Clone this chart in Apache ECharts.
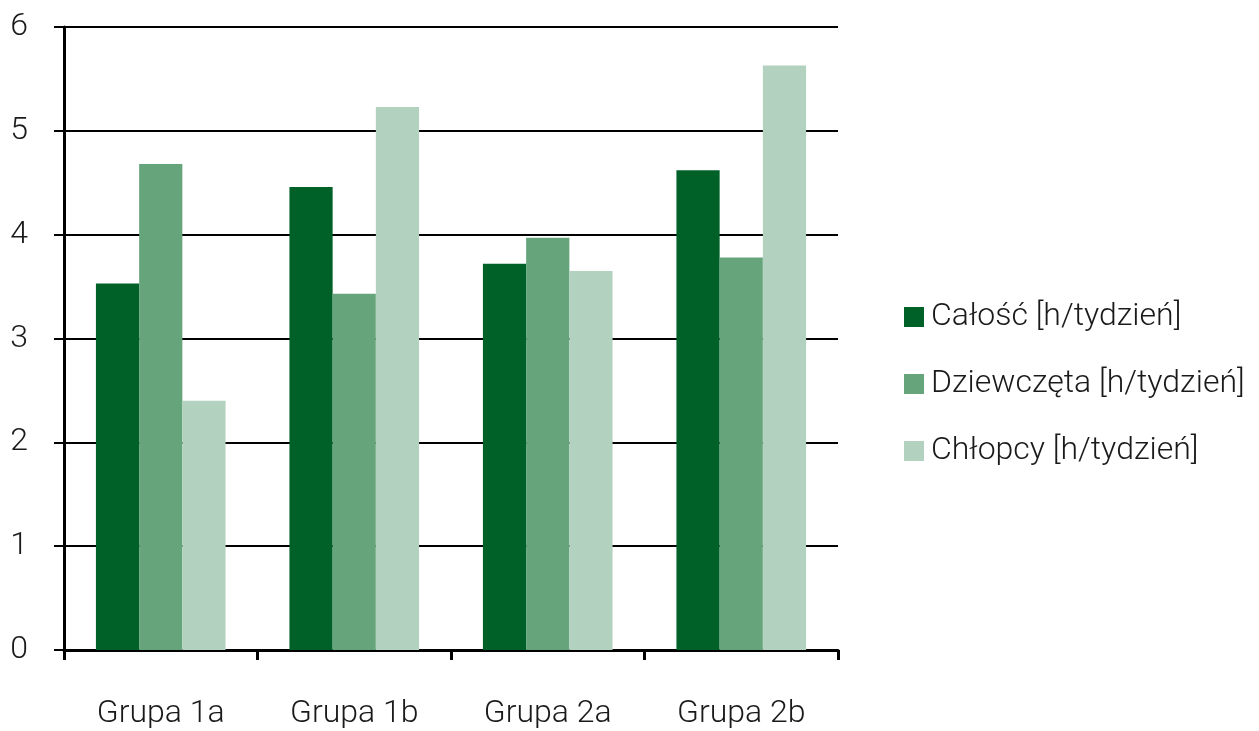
<!DOCTYPE html>
<html>
<head>
<meta charset="utf-8">
<script src="https://cdn.jsdelivr.net/npm/echarts@6/dist/echarts.min.js"></script>
<style>
  html, body { margin: 0; padding: 0; background: #fff; }
  #chart { width: 1259px; height: 731px; }
</style>
</head>
<body>
<div id="chart"></div>
<script>
  // dane
  const categories = ['Grupa 1a', 'Grupa 1b', 'Grupa 2a', 'Grupa 2b'];
  const calosc = [3.53, 4.46, 3.72, 4.62];
  const dziewczeta = [4.68, 3.43, 3.97, 3.78];
  const chlopcy = [2.40, 5.23, 3.65, 5.63];
  const seriesNames = ['Całość [h/tydzień]', 'Dziewczęta [h/tydzień]', 'Chłopcy [h/tydzień]'];

  const font = 'Roboto, Liberation Sans, Arial, sans-serif';
  const chart = echarts.init(document.getElementById('chart'));

  chart.setOption({
    animation: false,
    color: ['#006128', '#66a47c', '#b3d1bf'],
    grid: { left: 64, right: 421, top: 27, bottom: 81 },
    legend: {
      orient: 'vertical',
      left: 899,
      top: 296,
      itemWidth: 20,
      itemHeight: 20,
      itemGap: 35,
      icon: 'rect',
      textStyle: { fontSize: 32, fontWeight: 300, color: '#1a1a1a', fontFamily: font, padding: [0, 0, 0, 2] },
      data: seriesNames
    },
    xAxis: {
      type: 'category',
      data: categories,
      axisLine: { lineStyle: { color: '#000', width: 3 } },
      axisTick: { show: true, length: 10, lineStyle: { color: '#000', width: 3 } },
      axisLabel: { fontSize: 32, fontWeight: 300, color: '#1a1a1a', fontFamily: font, margin: 48 }
    },
    yAxis: {
      type: 'value',
      min: 0,
      max: 6,
      interval: 1,
      axisLine: { show: true, lineStyle: { color: '#000', width: 3 } },
      axisTick: { show: true, length: 10, lineStyle: { color: '#000', width: 2 } },
      splitLine: { lineStyle: { color: '#000', width: 2 } },
      axisLabel: { fontSize: 32, fontWeight: 300, color: '#1a1a1a', fontFamily: font, margin: 36 }
    },
    series: [
      { name: seriesNames[0], type: 'bar', data: calosc, barGap: '0%', barCategoryGap: '33%' },
      { name: seriesNames[1], type: 'bar', data: dziewczeta, barGap: '0%', barCategoryGap: '33%' },
      { name: seriesNames[2], type: 'bar', data: chlopcy, barGap: '0%', barCategoryGap: '33%' }
    ]
  });
</script>
</body>
</html>
